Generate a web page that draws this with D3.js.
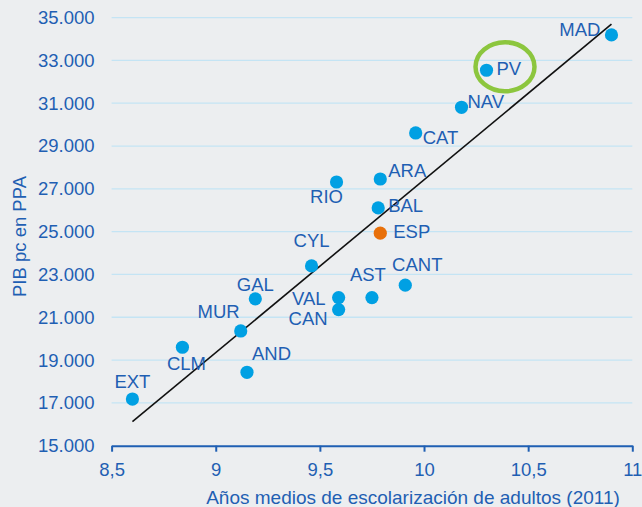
<!DOCTYPE html>
<html>
<head>
<meta charset="utf-8">
<script src="https://cdn.jsdelivr.net/npm/d3@7"></script>
<style>
  html, body { margin: 0; padding: 0; background: #eceef0; }
  svg { display: block; font-family: "Liberation Sans", Arial, sans-serif; }
</style>
</head>
<body>
<div id="chart"></div>
<script>
// regions, years of schooling (x) and GDP pc in PPA (y)
const regions = ["MAD", "PV", "NAV", "CAT", "ARA", "RIO", "BAL", "ESP", "CYL", "CANT", "AST", "VAL", "CAN", "GAL", "MUR", "CLM", "AND", "EXT"];
const schooling = [10.90, 10.30, 10.18, 9.96, 9.79, 9.58, 9.78, 9.79, 9.46, 9.91, 9.75, 9.59, 9.59, 9.19, 9.12, 8.84, 9.15, 8.60];
const gdp = [34190, 32540, 30810, 29610, 27460, 27320, 26110, 24930, 23400, 22500, 21920, 21920, 21360, 21860, 20360, 19600, 18430, 17180];
const xTicks = [8.5, 9, 9.5, 10, 10.5, 11];
const yTicks = [15000, 17000, 19000, 21000, 23000, 25000, 27000, 29000, 31000, 33000, 35000];
// fitted line endpoints (x, y)
const trendX = [8.60, 10.90];
const trendY = [16120, 34690];

// label placement in pixels: anchor, dx, dy (baseline)
const labelPos = {
  MAD: ["end", -11, 1], PV: ["start", 10, 5], NAV: ["start", 6, 1], CAT: ["start", 7, 11],
  ARA: ["start", 8, -2], RIO: ["middle", -10, 21], BAL: ["start", 10, 4], ESP: ["start", 13, 5],
  CYL: ["middle", 0, -19], CANT: ["middle", 12, -14], AST: ["middle", -4, -17], VAL: ["end", -13, 7],
  CAN: ["end", -11, 15], GAL: ["middle", 0, -8], MUR: ["end", -1, -13], CLM: ["middle", 4, 23],
  AND: ["start", 5, -12], EXT: ["middle", 0, -11]
};

const width = 642, height = 507;
const margin = { top: 17.6, right: 9.7, bottom: 61.3, left: 111.6 };
const innerW = width - margin.left - margin.right;
const innerH = height - margin.top - margin.bottom;

const blue = "#1f5fb3", dot = "#00a0e3", orange = "#e8700a", grid = "#c4e4f4";

const es = d3.formatLocale({ decimal: ",", thousands: ".", grouping: [3], currency: ["", "€"] });

const svg = d3.select("#chart").append("svg")
  .attr("width", width).attr("height", height);

const g = svg.append("g").attr("transform", `translate(${margin.left},${margin.top})`);

const x = d3.scaleLinear().domain([8.5, 11]).range([0, innerW]);
const y = d3.scaleLinear().domain([15000, 35000]).range([innerH, 0]);

// gridlines
g.append("g").selectAll("line")
  .data(yTicks.filter(d => d > 15000))
  .join("line")
  .attr("x1", 0).attr("x2", innerW)
  .attr("y1", d => y(d)).attr("y2", d => y(d))
  .attr("stroke", grid).attr("stroke-width", 1.3);

// y axis labels
const yAxis = g.append("g")
  .call(d3.axisLeft(y).tickValues(yTicks).tickSize(0).tickPadding(17).tickFormat(es.format(",d")));
yAxis.select(".domain").remove();
yAxis.selectAll("text").attr("fill", blue).style("font-size", "18.5px")
  .style("font-family", "'Liberation Sans', Arial, sans-serif");

// x axis
const xAxis = g.append("g")
  .attr("transform", `translate(0,${innerH})`)
  .call(d3.axisBottom(x).tickValues(xTicks).tickSizeInner(6).tickSizeOuter(0).tickPadding(11.5).tickFormat(es.format(".2~f")));
xAxis.select(".domain").attr("stroke", blue).attr("stroke-width", 2);
xAxis.selectAll(".tick line").attr("stroke", blue).attr("stroke-width", 2);
xAxis.selectAll("text").attr("fill", blue).style("font-size", "18.5px")
  .style("font-family", "'Liberation Sans', Arial, sans-serif");

// trend line
g.append("line")
  .attr("x1", x(trendX[0])).attr("y1", y(trendY[0]))
  .attr("x2", x(trendX[1])).attr("y2", y(trendY[1]))
  .attr("stroke", "#111").attr("stroke-width", 1.6);

const pts = regions.map((r, i) => ({ name: r, x: schooling[i], y: gdp[i] }));

// points
g.append("g").selectAll("circle")
  .data(pts)
  .join("circle")
  .attr("cx", d => x(d.x)).attr("cy", d => y(d.y))
  .attr("r", 6.6)
  .attr("fill", d => d.name === "ESP" ? orange : dot);

// labels
g.append("g").selectAll("text")
  .data(pts)
  .join("text")
  .attr("x", d => x(d.x) + labelPos[d.name][1])
  .attr("y", d => y(d.y) + labelPos[d.name][2])
  .attr("text-anchor", d => labelPos[d.name][0])
  .attr("fill", blue)
  .style("font-size", "18.5px")
  .text(d => d.name);

// highlight around PV
const pv = pts.find(d => d.name === "PV");
g.append("ellipse")
  .attr("cx", x(pv.x) + 18.5).attr("cy", y(pv.y) - 3.5)
  .attr("rx", 29.5).attr("ry", 24.5)
  .attr("fill", "none")
  .attr("stroke", "#8cc63e").attr("stroke-width", 4.5);

// axis titles
svg.append("text")
  .attr("x", 413).attr("y", 503.5)
  .attr("text-anchor", "middle")
  .attr("fill", blue)
  .style("font-size", "19px")
  .text("Años medios de escolarización de adultos (2011)");

svg.append("text")
  .attr("transform", "translate(25.5,236.5) rotate(-90)")
  .attr("text-anchor", "middle")
  .attr("fill", blue)
  .style("font-size", "18.5px")
  .text("PIB pc en PPA");
</script>
</body>
</html>
